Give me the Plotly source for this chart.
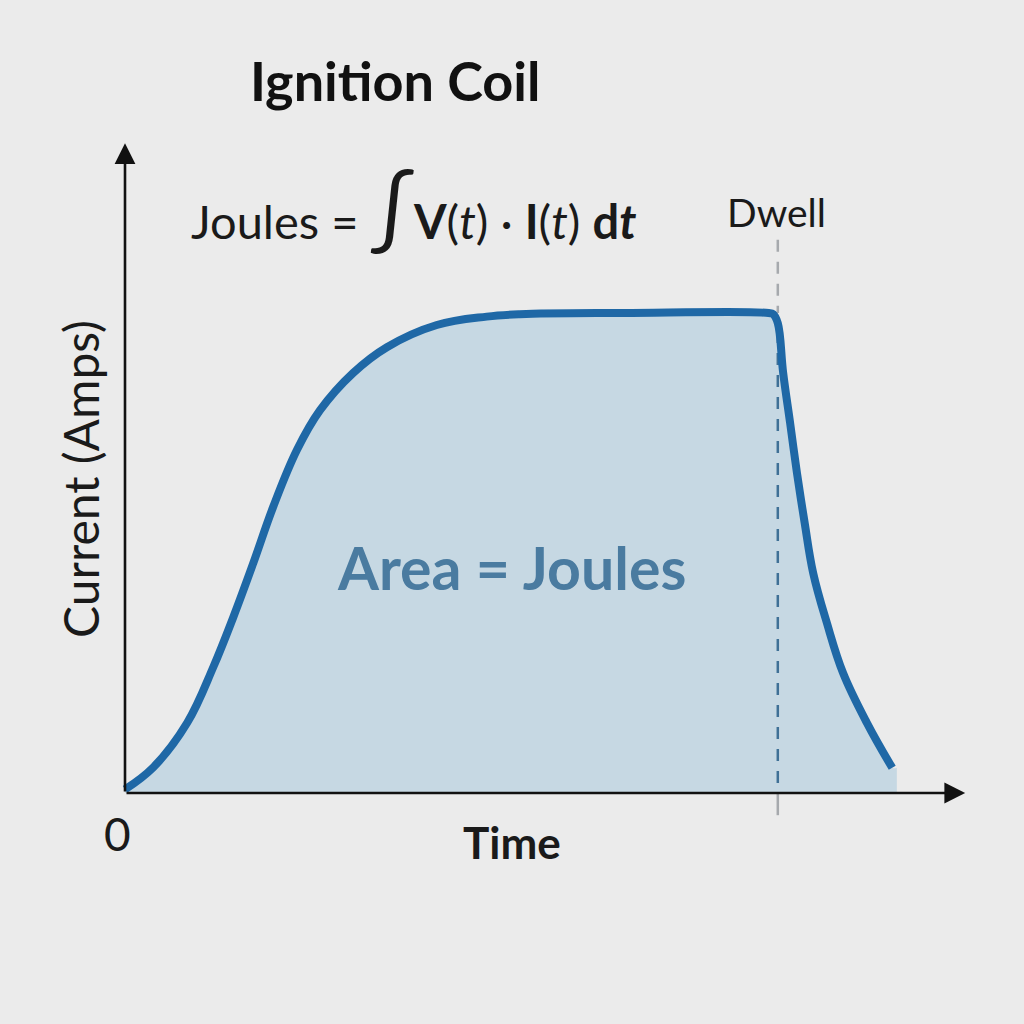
import plotly.graph_objects as go

# ---- data (time in arbitrary units, current in amps) ----
time_pts = [0.0, 0.37, 0.81, 1.15, 1.41, 1.67, 1.93, 2.24, 2.54, 2.97, 3.41, 4.06, 4.71, 5.14, 6.50, 8.38,
            8.44, 8.50, 8.57, 8.66, 8.75, 8.85, 8.96, 9.14, 9.35, 9.66, 9.99]
current_pts = [0.06, 0.43, 1.17, 2.10, 2.93, 3.83, 4.77, 5.72, 6.38, 7.00, 7.43, 7.80, 7.94, 7.98, 8.0, 8.0,
               7.98, 7.83, 7.00, 6.17, 5.33, 4.50, 3.67, 2.83, 2.00, 1.17, 0.42]
dwell_t = 8.50
dwell_top = 9.22
dwell_bottom = -0.37
x_axis_end = 10.94
y_axis_end = 10.83

BG = "#ebebeb"
LINE = "#1f68a6"
FILL = "#c6d8e3"
FONT = "Lato"

fig = go.Figure()

# area fill
fig.add_trace(go.Scatter(x=time_pts + [time_pts[-1] + 0.06], y=current_pts + [current_pts[-1]],
                         mode="lines", line=dict(width=0, shape="spline", smoothing=1.1),
                         fill="tozeroy", fillcolor=FILL, hoverinfo="skip", showlegend=False))

# dwell dashed marker: gray above the curve, blue within the area, gray below axis
fig.add_trace(go.Scatter(x=[dwell_t, dwell_t], y=[dwell_top, 8.0], mode="lines",
                         line=dict(color="#a6a9ad", width=2.5, dash="12px,10px"), showlegend=False))
fig.add_trace(go.Scatter(x=[dwell_t, dwell_t], y=[7.7, 0.0], mode="lines",
                         line=dict(color="#3f7096", width=2.5, dash="12px,10px"), showlegend=False))
fig.add_trace(go.Scatter(x=[dwell_t, dwell_t], y=[0.0, dwell_bottom], mode="lines",
                         line=dict(color="#a6a9ad", width=2.5), showlegend=False))

# current curve
fig.add_trace(go.Scatter(x=time_pts, y=current_pts, mode="lines",
                         line=dict(color=LINE, width=8, shape="spline", smoothing=1.1),
                         showlegend=False))

# axes arrows
for (xe, ye) in [(x_axis_end, 0.0), (0.0, y_axis_end)]:
    fig.add_annotation(x=xe, y=ye, ax=0, ay=0, xref="x", yref="y", axref="x", ayref="y",
                       text="", showarrow=True, arrowhead=2, arrowsize=1.6, arrowwidth=2.6,
                       arrowcolor="#111111")

def ptext(txt, px, py, size, color="#1a1a1a", angle=0, anchor="center"):
    fig.add_annotation(x=px / 1024, y=1 - py / 1024, xref="paper", yref="paper", text=txt,
                       showarrow=False, font=dict(family=FONT, size=size, color=color),
                       textangle=angle, xanchor=anchor, yanchor="middle")

ptext("<b>Ignition Coil</b>", 395, 80, 54, "#111111")
ptext("Joules = <span style='font-size:86px'>∫</span><b>V</b>(<i>t</i>) · <b>I</b>(<i>t</i>) <b>d<i>t</i></b>",
      413, 205, 47, "#1a1a1a")
ptext("Dwell", 776, 212, 39, "#1a1a1a")
ptext("<b>Area = Joules</b>", 511, 567, 59, "#4a7ba0")
ptext("<b>Time</b>", 512, 842, 44, "#1a1a1a")
ptext("0", 117, 833, 46, "#1a1a1a")
ptext("Current (Amps)", 80, 479, 48, "#1a1a1a", angle=-90)

# pixel mapping: t=0 at x=125px, 76.8 px per unit; I=0 at y=793px, 60 px per unit
fig.update_layout(
    width=1024, height=1024, autosize=False,
    margin=dict(l=0, r=0, t=0, b=0),
    paper_bgcolor=BG, plot_bgcolor=BG,
    xaxis=dict(range=[-125 / 76.8, (1024 - 125) / 76.8], visible=False, fixedrange=True),
    yaxis=dict(range=[(793 - 1024) / 60, 793 / 60], visible=False, fixedrange=True),
    showlegend=False,
)

fig.write_html("out.html", config={"displayModeBar": False},
               post_script="document.body.style.margin='0';document.body.style.background='#ebebeb';")
